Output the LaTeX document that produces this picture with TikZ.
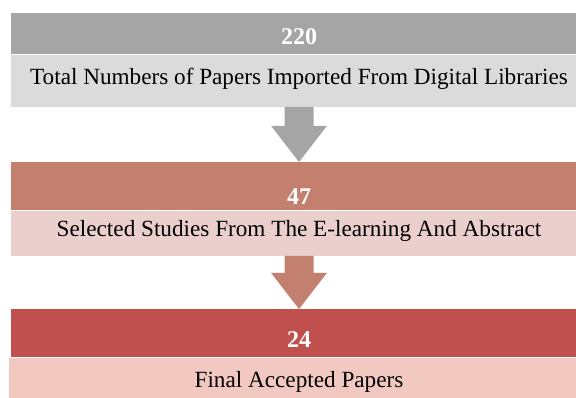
\documentclass[tikz,border=0pt]{standalone}
\usepackage{fontspec}
\setmainfont{Liberation Serif}
\usetikzlibrary{calc}
\definecolor{hdrgrey}{HTML}{A5A5A5}
\definecolor{bodygrey}{HTML}{DBDBDB}
\definecolor{hdrrose}{HTML}{C3806F}
\definecolor{bodyrose}{HTML}{EBCFCC}
\definecolor{hdrred}{HTML}{C0504D}
\definecolor{bodyred}{HTML}{F2C9C1}
\tikzset{
  band/.style={rectangle, inner sep=0pt, minimum width=576pt},
  numband/.style={band, font=\fontsize{24}{26}\selectfont\bfseries, text=white},
  txtband/.style={band, font=\fontsize{23.2}{25}\selectfont},
}
\begin{document}
\begin{tikzpicture}[x=1pt,y=1pt]
\useasboundingbox (0,0) rectangle (576,397);
\node[numband, fill=hdrgrey, text height=31pt, text depth=10pt, anchor=north] (h1) at (299,384) {220};
\node[txtband, fill=bodygrey, text height=30pt, text depth=22pt, anchor=north] (b1) at (h1.south) {Total Numbers of Papers Imported From Digital Libraries};
\node[numband, fill=hdrrose, text height=42pt, text depth=6pt, anchor=north] (h2) at (299,235) {47};
\node[txtband, fill=bodyrose, text height=26pt, text depth=19pt, anchor=north] (b2) at (h2.south) {Selected Studies From The E-learning And Abstract};
\node[numband, fill=hdrred, text height=38pt, text depth=10pt, anchor=north] (h3) at (299,88) {24};
\node[txtband, fill=bodyred, text height=30pt, text depth=10pt, anchor=north, minimum width=580pt] (b3) at (h3.south) {Final Accepted Papers};
\fill[hdrgrey] ($(b1.south)+(-14.5,0)$) -- ++(0,-19) -- ++(-13.5,0) -- (h2.north) -- ($(b1.south)+(28,-19)$) -- ++(-13.5,0) -- ++(0,19) -- cycle;
\fill[hdrrose] ($(b2.south)+(-14.5,0)$) -- ++(0,-17) -- ++(-13.5,0) -- (h3.north) -- ($(b2.south)+(28,-17)$) -- ++(-13.5,0) -- ++(0,17) -- cycle;
\end{tikzpicture}
\end{document}
